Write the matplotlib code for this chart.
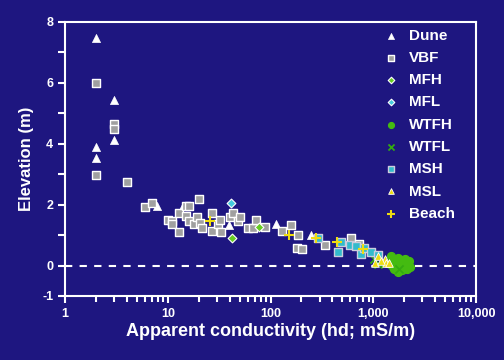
import numpy as np
import matplotlib
matplotlib.use("Agg")
from matplotlib import pyplot as plt
from matplotlib.ticker import FixedLocator, FuncFormatter, NullFormatter

# values
dune_x = [2, 2, 2, 3, 3, 7.9, 14, 39.5, 113, 248]
dune_y = [7.47, 3.88, 3.52, 5.43, 4.14, 1.97, 1.97, 1.32, 1.38, 0.99]

vbf_x = [2, 2, 3, 3, 4.0, 6.0, 7.0, 10.1, 11.0, 11.0, 12.9, 12.9, 15.1, 15.1, 16.1,
         16.1, 18.0, 19.3, 20.2, 20.6, 21.6, 27, 27, 30.9, 32, 33, 40.4, 43, 48, 50,
         60, 67, 72, 88, 130, 158, 185, 181, 203, 340, 610, 720]
vbf_y = [5.99, 2.96, 4.64, 4.5, 2.73, 1.91, 2.07, 1.51, 1.45, 1.35, 1.74, 1.09, 1.94, 1.64, 1.97,
         1.45, 1.35, 1.61, 2.17, 1.41, 1.25, 1.74, 1.12, 1.35, 1.48, 1.09, 1.58, 1.71, 1.45, 1.61,
         1.25, 1.22, 1.48, 1.28, 1.12, 1.32, 1.02, 0.59, 0.56, 0.69, 0.92, 0.72]

mfh_x = [42, 77]
mfh_y = [0.89, 1.28]

mfl_x = [41]
mfl_y = [2.04]

wtfh_x = [1460, 1490, 1550, 1600, 1650, 1700, 1740, 1780, 1820, 1870, 1900, 1950,
          2000, 2050, 2100, 2200, 2300, 1580, 1680, 1760, 1850, 1950, 2050, 1720, 1900,
          2150, 2250, 1630]
wtfh_y = [0.05, 0.30, -0.05, 0.15, 0.0, 0.10, 0.26, -0.10, 0.05, 0.15, -0.15, 0.0,
          0.10, 0.20, 0.0, 0.05, -0.05, -0.12, 0.12, -0.20, -0.05, 0.08, -0.08, 0.0, 0.18,
          -0.12, 0.15, 0.22]

wtfl_x = [1020, 1100, 1300, 1800]
wtfl_y = [0.20, 0.05, 0.10, -0.10]

msh_x = [290, 455, 487, 590, 680, 760, 820, 950, 1110]
msh_y = [0.89, 0.43, 0.79, 0.69, 0.63, 0.39, 0.59, 0.46, 0.36]

msl_x = [1040, 1110, 1310, 1330, 1430, 1200]
msl_y = [0.10, 0.30, 0.23, 0.07, 0.10, 0.15]

beach_x = [26, 152, 278, 445, 800]
beach_y = [1.45, 1.02, 0.89, 0.76, 0.53]

bg = '#1e1680'
plt.rcParams['font.family'] = ['Liberation Sans', 'DejaVu Sans']
plt.rcParams['font.weight'] = 'bold'
plt.rcParams['axes.unicode_minus'] = False

fig = plt.figure(figsize=(5.04, 3.6), dpi=100, facecolor=bg)
ax = fig.add_axes([65 / 504, 1 - 296 / 360, 411 / 504, 274 / 360], facecolor=bg)

ax.axhline(0, color='white', lw=1.5, ls=(0, (3.5, 3.5)), zorder=1)

ax.scatter(dune_x, dune_y, marker='^', s=34, c='white', edgecolors='white', linewidths=0.5, label='Dune', zorder=3)
ax.scatter(vbf_x, vbf_y, marker='s', s=36, c='#a0a0a0', edgecolors='white', linewidths=1.0, label='VBF', zorder=3)
ax.scatter(mfh_x, mfh_y, marker='D', s=20, c='#66cc22', edgecolors='white', linewidths=0.8, label='MFH', zorder=3)
ax.scatter(mfl_x, mfl_y, marker='D', s=20, c='#44ccdd', edgecolors='white', linewidths=0.8, label='MFL', zorder=3)
ax.scatter(wtfh_x, wtfh_y, marker='o', s=34, c='#44bb11', edgecolors='#44bb11', linewidths=0.8, label='WTFH', zorder=3)
ax.scatter(wtfl_x, wtfl_y, marker='x', s=34, c='#33aa11', linewidths=1.3, label='WTFL', zorder=3)
ax.scatter(msh_x, msh_y, marker='s', s=36, c='#33bbcc', edgecolors='#ccccdd', linewidths=1.0, label='MSH', zorder=3)
ax.scatter(msl_x, msl_y, marker='^', s=30, c='#eedd11', edgecolors='white', linewidths=0.6, label='MSL', zorder=3)
ax.scatter(beach_x, beach_y, marker='+', s=60, c='#eedd11', linewidths=1.5, label='Beach', zorder=3)

ax.set_xscale('log')
ax.set_xlim(1, 10000)
ax.set_ylim(-1, 8)

ax.xaxis.set_major_locator(FixedLocator([1, 10, 100, 1000, 10000]))
ax.xaxis.set_major_formatter(FuncFormatter(lambda v, p: '{:,.0f}'.format(v)))
minors = [m * 10 ** e for e in range(4) for m in range(2, 10)]
ax.xaxis.set_minor_locator(FixedLocator(minors))
ax.xaxis.set_minor_formatter(NullFormatter())

ax.yaxis.set_major_locator(FixedLocator([-1, 0, 2, 4, 6, 8]))
ax.yaxis.set_minor_locator(FixedLocator([1, 3, 5, 7]))

for s in ax.spines.values():
    s.set_color('white')
    s.set_linewidth(1.5)
ax.tick_params(which='both', colors='white', direction='out', width=1.5, labelsize=9)
ax.tick_params(which='major', length=5)
ax.tick_params(axis='y', which='minor', length=5)
ax.tick_params(axis='x', which='minor', length=4)
for lbl in ax.get_xticklabels() + ax.get_yticklabels():
    lbl.set_fontweight('bold')

ax.set_xlabel('Apparent conductivity (hd; mS/m)', color='white', fontsize=13, fontweight='bold', labelpad=2)
ax.set_ylabel('Elevation (m)', color='white', fontsize=12, fontweight='bold', labelpad=6)

leg = ax.legend(loc='upper left', bbox_to_anchor=(362 / 504, 1 - 15 / 360), bbox_transform=fig.transFigure,
                frameon=False, fontsize=11, labelspacing=0.54, handletextpad=0.2,
                scatterpoints=1, markerscale=0.75)
for t in leg.get_texts():
    t.set_color('white')
    t.set_fontweight('bold')

fig.savefig('out.png', dpi=100, facecolor=bg)
